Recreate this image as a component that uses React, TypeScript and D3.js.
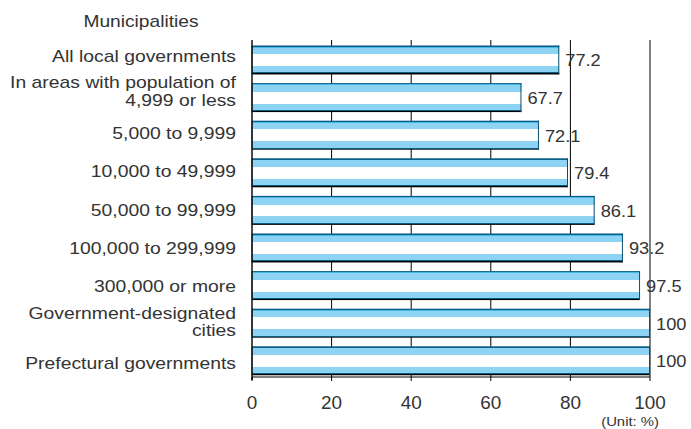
import React from "react";
import * as d3 from "d3";

const categories: string[][] = [
  ["All local governments"],
  ["In areas with population of", "4,999 or less"],
  ["5,000 to 9,999"],
  ["10,000 to 49,999"],
  ["50,000 to 99,999"],
  ["100,000 to 299,999"],
  ["300,000 or more"],
  ["Government-designated", "cities"],
  ["Prefectural governments"],
];
const values: number[] = [77.2, 67.7, 72.1, 79.4, 86.1, 93.2, 97.5, 100, 100];
const valueLabels: string[] = ["77.2", "67.7", "72.1", "79.4", "86.1", "93.2", "97.5", "100", "100"];
const xTicks: number[] = [0, 20, 40, 60, 80, 100];
const groupTitle = "Municipalities";
const unitLabel = "(Unit: %)";

const W = 691;
const H = 429;
const FONT = "'Liberation Sans', Arial, Helvetica, sans-serif";
const TXT = "#333";

export default function App() {
  const keys = categories.map((_, i) => String(i));
  const x = d3.scaleLinear().domain([0, 100]).range([252, 650]);
  const y = d3
    .scaleBand<string>()
    .domain(keys)
    .range([40, 377])
    .paddingInner(0.229)
    .paddingOuter(0.096)
    .align(0.76);
  const labelY = d3.scalePoint<string>().domain(keys).range([61.7, 369.3]);
  const bw = y.bandwidth();

  return (
    <svg
      width={W}
      height={H}
      style={{ position: "absolute", left: 0, top: 0, background: "#fff" }}
      fontFamily={FONT}
    >
      <defs>
        <linearGradient id="barGrad" x1="0" y1="0" x2="0" y2="1">
          <stop offset="0" stopColor="#0a5d85" />
          <stop offset="0.045" stopColor="#0a5d85" />
          <stop offset="0.045" stopColor="#45b8e8" />
          <stop offset="0.075" stopColor="#45b8e8" />
          <stop offset="0.075" stopColor="#8dd3f3" />
          <stop offset="0.3" stopColor="#8dd3f3" />
          <stop offset="0.3" stopColor="#ffffff" />
          <stop offset="0.71" stopColor="#ffffff" />
          <stop offset="0.71" stopColor="#8dd3f3" />
          <stop offset="0.93" stopColor="#8dd3f3" />
          <stop offset="0.93" stopColor="#0a5d85" />
          <stop offset="0.965" stopColor="#0a5d85" />
          <stop offset="0.965" stopColor="#000000" />
          <stop offset="1" stopColor="#000000" />
        </linearGradient>
      </defs>

      {/* grid lines */}
      {xTicks.slice(1).map((t) => (
        <line key={"g" + t} x1={x(t)} x2={x(t)} y1={40} y2={377} stroke="#000" strokeWidth={1} />
      ))}

      {/* bars */}
      {values.map((v, i) => {
        const top = y(String(i)) as number;
        return (
          <g key={"b" + i}>
            <rect x={x(0)} y={top} width={x(v) - x(0)} height={bw} fill="url(#barGrad)" />
            <line x1={x(v) - 0.5} x2={x(v) - 0.5} y1={top} y2={top + bw} stroke="#0a4f70" strokeWidth={1} />
            <line x1={x(0)} x2={x(0)} y1={top} y2={top + bw} stroke="#0a4f70" strokeWidth={1} />
          </g>
        );
      })}

      {/* axes */}
      <line x1={x(0)} x2={x(0)} y1={40} y2={380} stroke="#111" strokeWidth={1.5} />
      <line x1={x(0)} x2={x(100)} y1={377} y2={377} stroke="#000" strokeWidth={1} />
      {xTicks.map((t) => (
        <g key={"t" + t}>
          <line x1={x(t)} x2={x(t)} y1={377} y2={381} stroke="#000" strokeWidth={1} />
          <text
            transform={`translate(${x(t)},409) scale(1.08,1)`}
            textAnchor="middle"
            fontSize={17.5}
            fill={TXT}
          >
            {t}
          </text>
        </g>
      ))}

      {/* value labels */}
      {values.map((v, i) => {
        const top = y(String(i)) as number;
        return (
          <text
            key={"v" + i}
            transform={`translate(${x(v) + 6},${top + bw / 2 + 6.5}) scale(1.14,1)`}
            fontSize={16}
            fill={TXT}
          >
            {valueLabels[i]}
          </text>
        );
      })}

      {/* category labels */}
      {categories.map((lines, i) => {
        const base = labelY(String(i)) as number;
        const ys = lines.length === 1 ? [base] : [base - 11.8, base + 5.6];
        return lines.map((ln, j) => (
          <text
            key={"c" + i + "-" + j}
            transform={`translate(236,${ys[j]}) scale(1.21,1)`}
            textAnchor="end"
            fontSize={16}
            fill={TXT}
          >
            {ln}
          </text>
        ));
      })}

      <text transform="translate(141,26.7) scale(1.2,1)" textAnchor="middle" fontSize={16} fill={TXT}>
        {groupTitle}
      </text>
      <text transform="translate(659,425.5) scale(1.24,1)" textAnchor="end" fontSize={12} fill={TXT}>
        {unitLabel}
      </text>
    </svg>
  );
}
